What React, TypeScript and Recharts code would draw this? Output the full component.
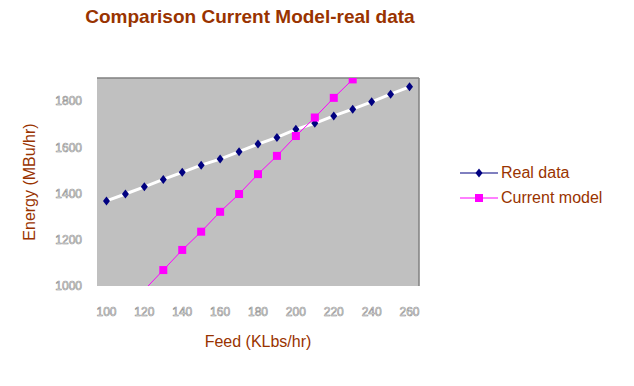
import React from "react";
import {
  LineChart,
  Line,
  XAxis,
  YAxis,
  ReferenceArea,
  ReferenceLine,
  Label,
} from "recharts";

const feed = [100, 110, 120, 130, 140, 150, 160, 170, 180, 190, 200, 210, 220, 230, 240, 250, 260];
const realData = [1368, 1398, 1429, 1461, 1492, 1523, 1549, 1581, 1614, 1643, 1678, 1704, 1736, 1765, 1797, 1830, 1862];
const currentModel = [null, null, 983, 1069, 1156, 1235, 1321, 1398, 1484, 1563, 1649, 1729, 1814, 1894, 1980, null, null];
const xTicks = [100, 120, 140, 160, 180, 200, 220, 240, 260];
const yTicks = [1000, 1200, 1400, 1600, 1800];

const data = feed.map((f, i) => ({
  feed: f,
  real: realData[i],
  model: currentModel[i],
}));

const brown = "#993300";
const font = "Arial, 'Liberation Sans', sans-serif";
const tickStyle = { fill: "#ffffff", stroke: "#8c8c8c", strokeWidth: 0.6, fontSize: 12, fontFamily: font };

const Diamond = (props: any) => {
  const { cx, cy } = props;
  if (cx == null || cy == null) return null;
  return <path d={`M${cx},${cy - 4.5} L${cx + 3.5},${cy} L${cx},${cy + 4.5} L${cx - 3.5},${cy} Z`} fill="#000080" />;
};

const Square = (props: any) => {
  const { cx, cy, value } = props;
  if (cx == null || cy == null || value == null) return null;
  if (value < 1000 || value > 1900) return null;
  return <rect x={cx - 4} y={cy - 4} width={8} height={8} fill="#ff00ff" />;
};

const legendItems = [
  { name: "Real data", color: "#000080", shape: "diamond" },
  { name: "Current model", color: "#ff00ff", shape: "square" },
];

const LegendBox = () => (
  <div style={{ position: "absolute", left: 460, top: 160, fontFamily: font, fontSize: 16, color: brown }}>
    {legendItems.map((it) => (
      <div key={it.name} style={{ display: "flex", alignItems: "center", height: 25 }}>
        <svg width={38} height={12}>
          <line x1={0} y1={6} x2={38} y2={6} stroke={it.color} strokeWidth={1} />
          {it.shape === "diamond" ? (
            <path d="M19,1.5 L22.5,6 L19,10.5 L15.5,6 Z" fill={it.color} />
          ) : (
            <rect x={15} y={2} width={8} height={8} fill={it.color} />
          )}
        </svg>
        <span style={{ marginLeft: 3 }}>{it.name}</span>
      </div>
    ))}
  </div>
);

export default function App() {
  return (
    <div style={{ position: "absolute", left: 0, top: 0, width: 634, height: 386, background: "#ffffff" }}>
      <LineChart width={634} height={386} data={data} margin={{ top: 78, right: 215, bottom: 70, left: 37 }}>
        <ReferenceArea x1={95} x2={265} y1={1000} y2={1900} fill="#c0c0c0" fillOpacity={1} stroke="none" />
        <ReferenceLine y={1900} stroke="#808080" strokeWidth={1.5} />
        <ReferenceLine x={265} stroke="#808080" strokeWidth={1.5} />
        <XAxis
          dataKey="feed"
          type="number"
          domain={[95, 265]}
          ticks={xTicks}
          interval={0}
          axisLine={false}
          tickLine={false}
          tickSize={0}
          tickMargin={21}
          height={30}
          tick={tickStyle}
        >
          <Label
            value="Feed (KLbs/hr)"
            position="bottom"
            offset={20}
            style={{ fill: brown, fontSize: 16, fontFamily: font }}
          />
        </XAxis>
        <YAxis
          type="number"
          domain={[1000, 1900]}
          ticks={yTicks}
          interval={0}
          allowDataOverflow
          axisLine={false}
          tickLine={false}
          tickSize={0}
          tickMargin={15}
          width={60}
          tick={tickStyle}
        >
          <Label
            value="Energy (MBu/hr)"
            angle={-90}
            position="insideLeft"
            offset={-8}
            style={{ fill: brown, fontSize: 16, textAnchor: "middle", fontFamily: font }}
          />
        </YAxis>
        <Line
          dataKey="real"
          name="Real data"
          stroke="#ffffff"
          strokeWidth={3}
          dot={<Diamond />}
          activeDot={false}
          isAnimationActive={false}
        />
        <Line
          dataKey="model"
          name="Current model"
          stroke="#ff00ff"
          strokeWidth={1}
          dot={<Square />}
          activeDot={false}
          isAnimationActive={false}
        />
      </LineChart>
      <div
        style={{
          position: "absolute",
          left: 0,
          width: 500,
          top: 6,
          textAlign: "center",
          fontFamily: font,
          fontWeight: "bold",
          fontSize: 19,
          color: brown,
        }}
      >
        Comparison Current Model-real data
      </div>
      <LegendBox />
    </div>
  );
}
